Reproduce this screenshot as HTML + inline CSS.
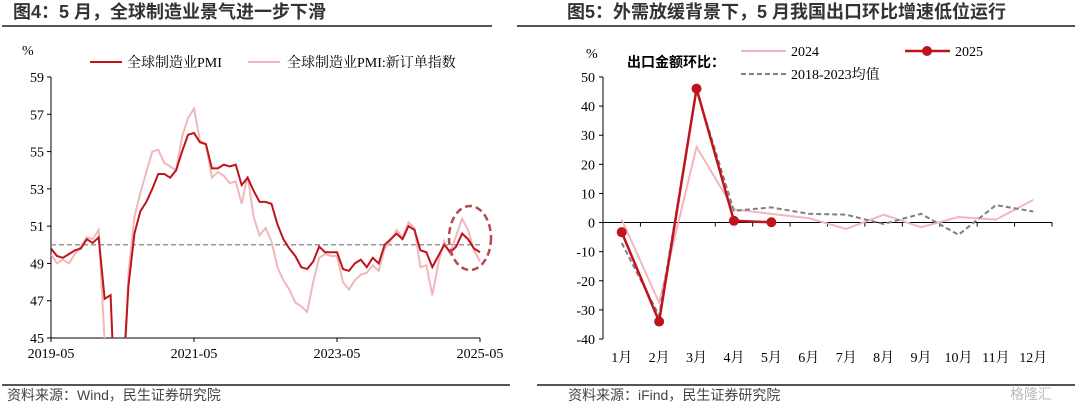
<!DOCTYPE html>
<html><head><meta charset="utf-8"><style>
html,body{margin:0;padding:0;width:1080px;height:411px;background:#fff;overflow:hidden;font-family:"Liberation Sans","Noto Sans CJK SC",sans-serif}
#wrap{position:relative;width:1080px;height:411px;overflow:hidden}
.t{position:absolute;font-weight:bold;font-size:18px;line-height:22px;height:22px;color:#333;top:1px;white-space:nowrap}
.s{position:absolute;font-size:14px;line-height:18px;height:18px;color:#444;top:386px;white-space:nowrap}
.hl{position:absolute;height:2px;background:#555}
svg{position:absolute;left:0;top:0;display:block}
</style></head><body><div id="wrap">
<div class="t" style="left:13px">图4：5 月，全球制造业景气进一步下滑</div>
<div class="t" style="left:567px">图5：外需放缓背景下，5 月我国出口环比增速低位运行</div>
<div class="hl" style="left:2px;width:490px;top:25px"></div>
<div class="hl" style="left:517px;width:558px;top:25px"></div>
<div class="hl" style="left:2px;width:508px;top:384px"></div>
<div class="hl" style="left:537px;width:538px;top:384px"></div>
<div class="s" style="left:7px">资料来源：Wind，民生证券研究院</div>
<div class="s" style="left:568px">资料来源：iFind，民生证券研究院</div>
<div class="s" style="left:1010px;top:385px;color:#bbb">格隆汇</div>
<svg id="c" width="1080" height="411" font-family="Liberation Serif,Noto Serif CJK SC,serif" font-size="14"></svg>
</div>
<script>
const pmi=[49.8,49.4,49.3,49.5,49.7,49.8,50.3,50.1,50.4,47.1,47.3,39.6,42.4,47.8,50.6,51.8,52.3,53.0,53.8,53.8,53.6,54.0,55.0,55.9,56.0,55.5,55.4,54.1,54.1,54.3,54.2,54.3,53.2,53.6,52.9,52.3,52.3,52.2,51.1,50.3,49.8,49.4,48.8,48.7,49.1,49.9,49.6,49.6,49.6,48.7,48.6,49.0,49.2,48.8,49.3,49.0,50.0,50.3,50.6,50.3,51.0,50.8,49.7,49.6,48.8,49.4,50.0,49.6,49.9,50.6,50.3,49.8,49.6];
const newOrders=[49.5,49.0,49.2,49.0,49.5,49.9,50.4,50.3,50.8,44.8,40.0,34.0,40.0,48.5,51.5,52.8,53.9,55.0,55.1,54.4,54.2,54.0,55.8,56.8,57.3,55.6,55.4,53.6,53.9,53.7,53.3,53.4,52.2,53.7,51.5,50.5,50.9,50.2,48.8,48.1,47.6,46.9,46.7,46.4,48.0,49.3,49.5,49.4,49.4,48.0,47.6,48.1,48.4,48.5,48.9,48.6,49.8,50.2,50.8,50.4,51.2,50.9,48.8,48.9,47.3,49.0,50.2,49.5,50.5,51.4,50.8,49.7,49.1];
const leftTicks=[45,47,49,51,53,55,57,59];
const leftXLabels=["2019-05","2021-05","2023-05","2025-05"];
const months=["1月","2月","3月","4月","5月","6月","7月","8月","9月","10月","11月","12月"];
const s2024=[1.0,-27.5,26,4.5,3.0,1.5,-2.2,2.7,-1.6,1.9,1.0,7.8];
const s2025=[-3.3,-34,46,0.6,0.1];
const sAvg=[-7,-32,45.5,4.0,5.2,3.0,2.7,-0.5,3.0,-4.2,6.0,3.8];
const rightTicks=[50,40,30,20,10,0,-10,-20,-30,-40];
const NS="http://www.w3.org/2000/svg",svg=document.getElementById('c');
function el(t,a,txt){const e=document.createElementNS(NS,t);for(const k in a)e.setAttribute(k,a[k]);if(txt!=null)e.textContent=txt;svg.appendChild(e);return e;}
const lx=i=>51+i*(480-51)/72, ly=v=>77+(59-v)*(338-77)/14;
let e=el('line',{x1:51,y1:77,x2:51,y2:338,stroke:'#000'});

e=el('line',{x1:51,y1:338,x2:480,y2:338,stroke:'#000'});

leftTicks.forEach(v=>{el('line',{x1:47,x2:51,y1:ly(v),y2:ly(v),stroke:'#000'});
e=el('text',{x:44,y:ly(v)+5,'text-anchor':'end'},v);
});
leftXLabels.forEach((l,i)=>{const x=lx(i*24);el('line',{x1:x,x2:x,y1:338,y2:342,stroke:'#000'});
e=el('text',{x:x,y:358,'text-anchor':'middle'},l);
});
e=el('text',{x:22,y:55},'%');
e=el('line',{x1:51,x2:480,y1:ly(50),y2:ly(50),stroke:'#999','stroke-width':1.5,'stroke-dasharray':'5,3'});

svg.insertAdjacentHTML('beforeend','<clipPath id="lc"><rect x="51" y="70" width="440" height="268"/></clipPath>');
e=el('polyline',{points:newOrders.map((v,i)=>lx(i)+','+ly(v)).join(' '),fill:'none',stroke:'#f0b8bc','stroke-width':2,'clip-path':'url(#lc)'});

e=el('polyline',{points:pmi.map((v,i)=>lx(i)+','+ly(v)).join(' '),fill:'none',stroke:'#c0141c','stroke-width':2,'clip-path':'url(#lc)'});

e=el('ellipse',{cx:470,cy:238,rx:21,ry:32,fill:'none',stroke:'#b34a50','stroke-width':2.5,'stroke-dasharray':'7,4'});

el('line',{x1:90,x2:122,y1:62,y2:62,stroke:'#c0141c','stroke-width':2});
e=el('text',{x:127,y:67},'全球制造业PMI');
el('line',{x1:248,x2:280,y1:62,y2:62,stroke:'#f0b8bc','stroke-width':2});
e=el('text',{x:287,y:67},'全球制造业PMI:新订单指数');
const bw=(1052-603)/12, rx=i=>603+bw*(i+0.5), ry=v=>77+(50-v)*(339-77)/90;
e=el('line',{x1:603,y1:77,x2:603,y2:339,stroke:'#000'});

e=el('line',{x1:603,y1:ry(0),x2:1052,y2:ry(0),stroke:'#000'});

rightTicks.forEach(v=>{el('line',{x1:599,x2:603,y1:ry(v),y2:ry(v),stroke:'#000'});
e=el('text',{x:595,y:ry(v)+5,'text-anchor':'end'},v);
});
months.forEach((m,i)=>{const x=603+bw*(i+1);el('line',{x1:x,x2:x,y1:ry(0),y2:ry(0)+4,stroke:'#000'});
e=el('text',{x:rx(i),y:362,'text-anchor':'middle'},m);
});
e=el('text',{x:586,y:58},'%');
e=el('polyline',{points:s2024.map((v,i)=>rx(i)+','+ry(v)).join(' '),fill:'none',stroke:'#f0b8bc','stroke-width':2});

e=el('polyline',{points:sAvg.map((v,i)=>rx(i)+','+ry(v)).join(' '),fill:'none',stroke:'#808080','stroke-width':2,'stroke-dasharray':'5,3'});

e=el('polyline',{points:s2025.map((v,i)=>rx(i)+','+ry(v)).join(' '),fill:'none',stroke:'#c0141c','stroke-width':2.5});

s2025.forEach((v,i)=>{e=el('circle',{cx:rx(i),cy:ry(v),r:5,fill:'#c0141c'});
});
e=el('text',{x:627,y:67,'font-family':'Liberation Sans,Noto Sans CJK SC,sans-serif','font-weight':'bold','font-size':14},'出口金额环比：');

el('line',{x1:741,x2:786,y1:51,y2:51,stroke:'#f0b8bc','stroke-width':2});
e=el('text',{x:791,y:56},'2024');
el('line',{x1:905,x2:950,y1:51,y2:51,stroke:'#c0141c','stroke-width':2.5});el('circle',{cx:927,cy:51,r:5,fill:'#c0141c'});
e=el('text',{x:955,y:56},'2025');
el('line',{x1:741,x2:786,y1:74,y2:74,stroke:'#808080','stroke-width':2,'stroke-dasharray':'5,3'});
e=el('text',{x:791,y:79},'2018-2023均值');
</script>
</body></html>
